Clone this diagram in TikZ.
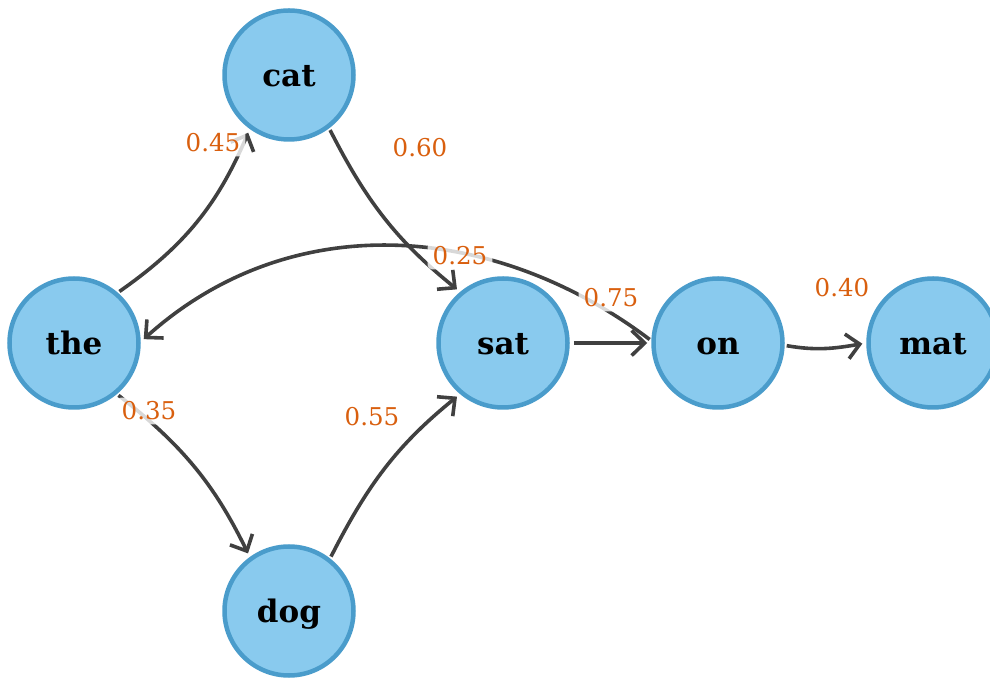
\documentclass[tikz,border=0pt]{standalone}
\usepackage{fontspec}
\setmainfont{DejaVu Serif}
\usetikzlibrary{arrows.meta}
\definecolor{nodefill}{RGB}{137,202,238}
\definecolor{nodeedge}{RGB}{74,156,203}
\definecolor{edgecol}{RGB}{64,64,64}
\definecolor{labcol}{RGB}{217,95,14}
\begin{document}
\begin{tikzpicture}[x=1pt,y=1pt,
  word/.style={circle, draw=nodeedge, fill=nodefill, line width=4.5pt, minimum size=129pt, inner sep=0pt, text height=26pt, text depth=3pt, font=\fontsize{31}{36}\selectfont\bfseries},
  link/.style={draw=edgecol, line width=3.6pt, -{Straight Barb[length=13pt,width=25pt]}, shorten >=4pt, shorten <=2pt},
  weight/.style={text=labcol, fill=white, fill opacity=0.8, text opacity=1, rounded corners=4pt, inner xsep=5pt, inner ysep=4pt, font=\fontsize{24.5}{29}\selectfont}]
\useasboundingbox (0,0) rectangle (990,677);
\clip (0,0) rectangle (990,677);
% nodes
\node[word] (the) at (74,334) {the};
\node[word] (cat) at (289,602) {cat};
\node[word] (sat) at (503,334) {sat};
\node[word] (on)  at (718,334) {on};
\node[word] (mat) at (933,334) {mat};
\node[word] (dog) at (289,66) {dog};
% edges
\draw[link] (the.49) to[out=35,in=247] (cat.234);
\draw[link] (the.310) to[out=322,in=116] (dog.126);
\draw[link] (cat.307) to[out=297,in=141] (sat.130);
\draw[link] (dog.52) to[out=63,in=219] (sat.230);
\draw[link, shorten <=4pt] (sat.0) -- (on.180);
\draw[link] (on.358) to[out=350,in=190] (mat.180);
\draw[link] (on.178) to[out=143,in=42] (the.1);
% weights
\node[weight] (w1) at (213,534) {0.45};
\node[weight] (w2) at (420,529) {0.60};
\node[weight] (w3) at (460,421) {0.25};
\node[weight] (w4) at (611,379) {0.75};
\node[weight] (w5) at (149,266) {0.35};
\node[weight] (w6) at (372,260) {0.55};
\node[weight] (w7) at (842,389) {0.40};
\end{tikzpicture}
\end{document}
